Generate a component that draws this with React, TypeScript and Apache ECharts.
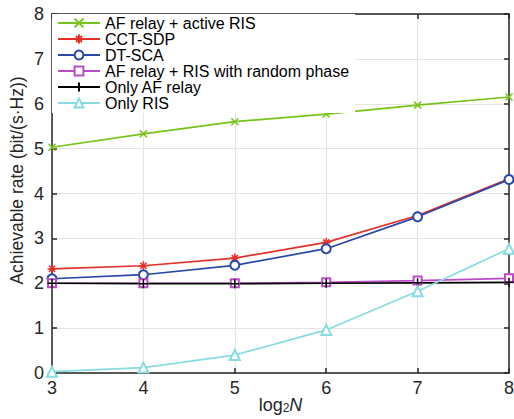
import React, { useEffect, useRef } from "react";
import * as echarts from "echarts";

// log2 N on the horizontal axis
const xValues = [3, 4, 5, 6, 7, 8];

// Achievable rate (bit/(s·Hz)) for each scheme
const afActiveRis = [5.03, 5.33, 5.6, 5.77, 5.97, 6.15];
const cctSdp = [2.32, 2.39, 2.56, 2.91, 3.51, 4.33];
const dtSca = [2.1, 2.19, 2.4, 2.77, 3.48, 4.31];
const afRandomRis = [2.0, 2.0, 2.0, 2.02, 2.06, 2.11];
const onlyAf = [2.0, 1.99, 1.99, 2.0, 2.01, 2.02];
const onlyRis = [0.03, 0.12, 0.4, 0.96, 1.82, 2.77];

const seriesNames = [
  "AF relay + active RIS",
  "CCT-SDP",
  "DT-SCA",
  "AF relay + RIS with random phase",
  "Only AF relay",
  "Only RIS",
];

const yTicks = [0, 1, 2, 3, 4, 5, 6, 7, 8];

const CROSS = "path://M0,0L10,10M10,0L0,10";
const STAR = "path://M5,0L5,10M0,5L10,5M1.6,1.6L8.4,8.4M8.4,1.6L1.6,8.4";
const PLUS = "path://M5,0L5,10M0,5L10,5";

const axisColor = "#262626";
const font = "'Liberation Sans', Arial, Helvetica, sans-serif";

function pairs(ys: number[]) {
  return xValues.map((x, i) => [x, ys[i]]);
}

export default function App() {
  const ref = useRef<HTMLDivElement>(null);

  useEffect(() => {
    if (!ref.current) return;
    const chart = echarts.init(ref.current, undefined, { renderer: "svg" });

    const lineSeries = (
      name: string,
      data: number[],
      color: string,
      symbol: string,
      size: number
    ) => ({
      name,
      type: "line",
      data: pairs(data),
      symbol,
      symbolSize: size,
      showSymbol: true,
      lineStyle: { color, width: 1.7 },
      itemStyle: { color, borderColor: color, borderWidth: 1.5 },
      emphasis: { disabled: true },
      z: 3,
    });

    const makeAxis = (extra: any) => ({
      type: "value",
      axisLine: { show: true, onZero: false, lineStyle: { color: axisColor, width: 1.5 } },
      axisTick: { show: true, inside: true, length: 5, lineStyle: { color: axisColor, width: 1.5 } },
      ...extra,
    });

    chart.setOption({
      animation: false,
      backgroundColor: "#ffffff",
      textStyle: { fontFamily: font },
      grid: { left: 52, right: 5, top: 14, bottom: 46, outerBoundsMode: "none", containLabel: false },
      legend: {
        orient: "vertical",
        left: 52,
        top: 14,
        padding: [1, 6, 2, 5],
        itemGap: 0,
        itemWidth: 42,
        itemHeight: 11,
        backgroundColor: "#ffffff",
        data: seriesNames,
        textStyle: { fontSize: 16, lineHeight: 16, color: "#000000", fontFamily: font },
      },
      xAxis: [
        makeAxis({
          min: 3,
          max: 8,
          interval: 1,
          position: "bottom",
          name: "{a|log}{s|2}{i|N}",
          nameLocation: "middle",
          nameMoveOverlap: false,
          nameGap: 23,
          nameTextStyle: {
            rich: {
              a: { fontSize: 18, lineHeight: 18, color: axisColor, fontFamily: font },
              s: {
                fontSize: 12,
                lineHeight: 12,
                verticalAlign: "bottom",
                color: axisColor,
                fontFamily: font,
              },
              i: { fontSize: 18, lineHeight: 18, color: axisColor, fontFamily: font, fontStyle: "italic" },
            },
          },
          axisLabel: { fontSize: 18, color: axisColor, margin: 6, fontFamily: font },
          splitLine: { show: true, lineStyle: { color: "#e5e5e5", width: 1.2 } },
        }),
        makeAxis({
          min: 3,
          max: 8,
          interval: 1,
          position: "top",
          axisLabel: { show: false },
          splitLine: { show: false },
        }),
      ],
      yAxis: [
        makeAxis({
          min: yTicks[0],
          max: yTicks[yTicks.length - 1],
          interval: 1,
          position: "left",
          name: "Achievable rate (bit/(s·Hz))",
          nameLocation: "middle",
          nameMoveOverlap: false,
          nameGap: 26,
          nameTextStyle: {
            fontSize: 17.5,
            color: axisColor,
            fontFamily: font,
            padding: [0, 0, 0, 26],
          },
          axisLabel: { fontSize: 18, color: axisColor, margin: 8, fontFamily: font },
          splitLine: { show: true, lineStyle: { color: "#e5e5e5", width: 1.2 } },
        }),
        makeAxis({
          min: yTicks[0],
          max: yTicks[yTicks.length - 1],
          interval: 1,
          position: "right",
          axisLabel: { show: false },
          splitLine: { show: false },
        }),
      ],
      series: [
        lineSeries(seriesNames[0], afActiveRis, "#77c31a", CROSS, 7),
        lineSeries(seriesNames[1], cctSdp, "#e5302a", STAR, 9),
        lineSeries(seriesNames[2], dtSca, "#2a48aa", "emptyCircle", 9),
        lineSeries(seriesNames[3], afRandomRis, "#bb4cc6", "emptyRect", 8),
        lineSeries(seriesNames[4], onlyAf, "#000000", PLUS, 9),
        lineSeries(seriesNames[5], onlyRis, "#88dce0", "emptyTriangle", 10),
      ],
    });

    return () => chart.dispose();
  }, []);

  return <div ref={ref} style={{ width: 514, height: 419, position: "absolute", left: 0, top: 0 }} />;
}
